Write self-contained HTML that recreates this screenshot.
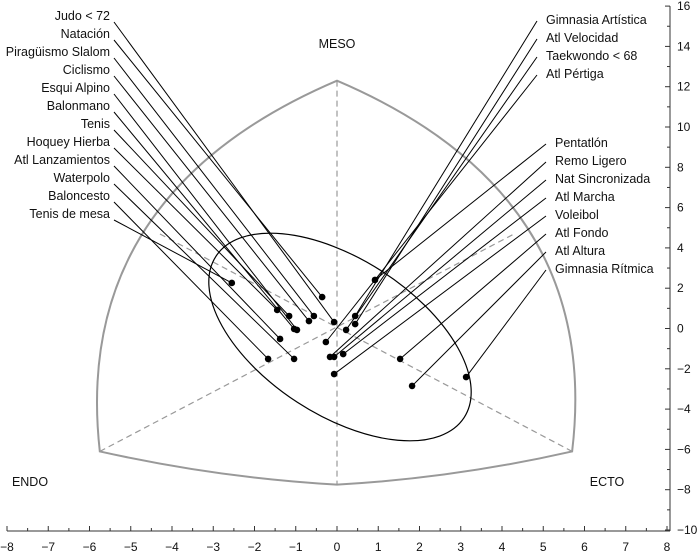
<!DOCTYPE html>
<html><head><meta charset="utf-8"><style>
html,body{margin:0;padding:0;background:#fff;}
svg{display:block;font-family:"Liberation Sans",sans-serif;}
</style></head><body>
<svg id="chart" width="700" height="555" viewBox="0 0 700 555">
<g id="frame"></g>
<g id="axes"></g>
<g id="marks"></g>
</svg>
<script>
const leftNames = ["Judo < 72","Natación","Piragüismo Slalom","Ciclismo","Esqui Alpino","Balonmano","Tenis","Hoquey Hierba","Atl Lanzamientos","Waterpolo","Baloncesto","Tenis de mesa"];
const leftX = [-0.07,-0.36,-0.56,-0.68,-0.97,-1.04,-1.16,-1.45,-1.38,-1.04,-1.67,-2.55];
const leftY = [0.32,1.56,0.62,0.37,-0.07,-0.02,0.62,0.92,-0.52,-1.51,-1.51,2.26];
const rightNames = ["Gimnasia Artística","Atl Velocidad","Taekwondo < 68","Atl Pértiga","Pentatlón","Remo Ligero","Nat Sincronizada","Atl Marcha","Voleibol","Atl Fondo","Atl Altura","Gimnasia Rítmica"];
const rightX = [0.44,0.44,0.22,-0.27,0.92,-0.17,-0.07,0.15,-0.07,1.53,1.82,3.13];
const rightY = [0.62,0.22,-0.07,-0.67,2.41,-1.41,-1.41,-1.27,-2.26,-1.51,-2.85,-2.41];
const xTicks = [-8,-7,-6,-5,-4,-3,-2,-1,0,1,2,3,4,5,6,7,8];
const yTicks = [-10,-8,-6,-4,-2,0,2,4,6,8,10,12,14,16];

const NS="http://www.w3.org/2000/svg";
const sx = v => 337 + v*41.25;
const sy = v => 328.5 - v*20.15;
function mk(tag, attrs, parent){const e=document.createElementNS(NS,tag);for(const k in attrs)e.setAttribute(k,attrs[k]);parent.appendChild(e);return e;}
const frame=document.getElementById('frame'), axes=document.getElementById('axes'), marks=document.getElementById('marks');

const A=[sx(0),sy(12.3)], L=[sx(-5.75),sy(-6.1)], R=[sx(5.7),sy(-6.1)], B=[sx(0),sy(-7.75)];
let p=mk('path',{d:`M${L[0]},${L[1]} Q71,194 ${A[0]},${A[1]} Q603,194 ${R[0]},${R[1]} Q455,478 ${B[0]},${B[1]} Q219,478 ${L[0]},${L[1]}Z`,fill:'none',stroke:'#999','stroke-width':2},frame);


const dash={stroke:'#999','stroke-width':1.2,'stroke-dasharray':'6,4',fill:'none'};
let d1=mk('line',Object.assign({x1:sx(0),y1:sy(12.3),x2:sx(0),y2:sy(-7.75)},dash),frame);


let d2=mk('line',Object.assign({x1:L[0],y1:L[1],x2:sx(4.3),y2:sy(4.7)},dash),frame);


let d3=mk('line',Object.assign({x1:R[0],y1:R[1],x2:sx(-4.3),y2:sy(4.7)},dash),frame);


let el=mk('ellipse',{cx:340,cy:337,rx:148,ry:78,transform:'rotate(33 340 337)',fill:'none',stroke:'#000','stroke-width':1.2},frame);


[["MESO",337,48,'middle','meso-label'],["ENDO",30,486,'middle','endo-label'],["ECTO",607,486,'middle','ecto-label']].forEach(t=>{
 const e=mk('text',{x:t[1],y:t[2],'text-anchor':t[3],'font-size':12.5,fill:'#111'},frame);e.textContent=t[0];
 
 
});

let xa=mk('line',{x1:sx(-8),y1:531,x2:670,y2:531,stroke:'#333','stroke-width':1},axes);


let ya=mk('line',{x1:670,y1:sy(16),x2:670,y2:531,stroke:'#333','stroke-width':1},axes);


for(let i=0;i<xTicks.length;i++){
 const v=xTicks[i];
 mk('line',{x1:sx(v),y1:531,x2:sx(v),y2:526,stroke:'#333'},axes);
 if(i<xTicks.length-1) mk('line',{x1:sx(v+0.5),y1:531,x2:sx(v+0.5),y2:528,stroke:'#333'},axes);
 const t=mk('text',{x:sx(v),y:551,'text-anchor':'middle','font-size':12,fill:'#111'},axes);
 t.textContent=v<0?'\u2212'+(-v):String(v);
 
 
}
for(let i=0;i<yTicks.length;i++){
 const v=yTicks[i];
 mk('line',{x1:670,y1:sy(v),x2:665,y2:sy(v),stroke:'#333'},axes);
 if(i<yTicks.length-1) mk('line',{x1:670,y1:sy(v+1),x2:667,y2:sy(v+1),stroke:'#333'},axes);
 const t=mk('text',{x:677,y:sy(v)+4,'text-anchor':'start','font-size':12,fill:'#111'},axes);
 t.textContent=v<0?'\u2212'+(-v):String(v);
 
 
}

for(let i=0;i<leftNames.length;i++){
 const ly=16+i*18;
 const t=mk('text',{x:110,y:ly+4,'text-anchor':'end','font-size':12.5,fill:'#111'},marks);
 t.textContent=leftNames[i];
 
 
 mk('line',{x1:114,y1:ly+6,x2:sx(leftX[i]),y2:sy(leftY[i]),stroke:'#000','stroke-width':1},marks);
 const c=mk('circle',{cx:sx(leftX[i]),cy:sy(leftY[i]),r:3.3,fill:'#000'},marks);
 
 
}
for(let i=0;i<rightNames.length;i++){
 const top=i<4;
 const ly=top?(20+i*18):(143+(i-4)*18);
 const tx=top?546:555;
 const t=mk('text',{x:tx,y:ly+4,'text-anchor':'start','font-size':12.5,fill:'#111'},marks);
 t.textContent=rightNames[i];
 
 
 mk('line',{x1:tx-9,y1:ly+1,x2:sx(rightX[i]),y2:sy(rightY[i]),stroke:'#000','stroke-width':1},marks);
 const c=mk('circle',{cx:sx(rightX[i]),cy:sy(rightY[i]),r:3.3,fill:'#000'},marks);
 
 
}
</script>
</body></html>
